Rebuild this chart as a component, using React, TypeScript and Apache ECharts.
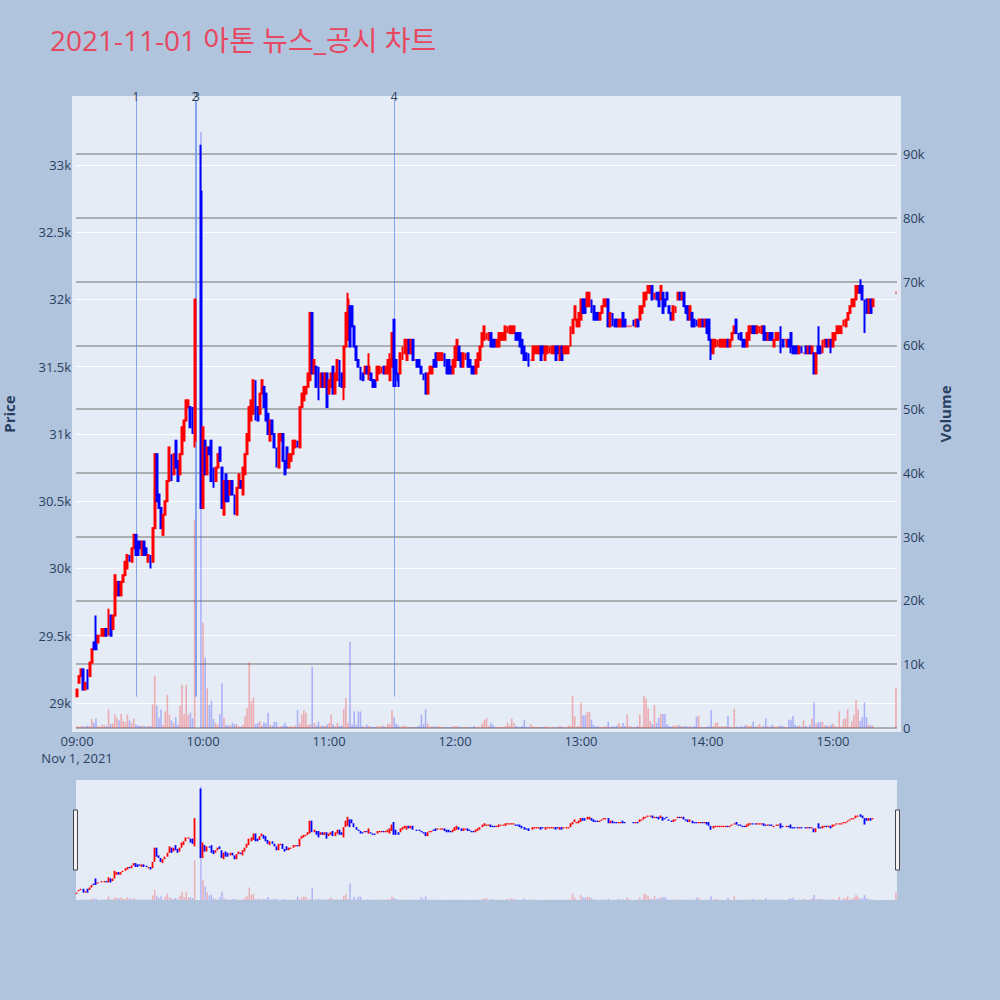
import React, { useEffect, useRef } from "react";
import * as echarts from "echarts";

const TITLE = "2021-11-01 아톤 뉴스_공시 차트";
const DATE_LABEL = "Nov 1, 2021";

// Each minute: [open, close] or [open, close, low, high]; null = no trade (VI halt / closing auction)
type Bar = number[] | null;

const bars0900: Bar[] = [
  [29050, 29100], [29150, 29200], [29200, 29250], [29250, 29100], [29100, 29150], [29250, 29150, 29100, 29250], [29200, 29300], [29300, 29400], [29450, 29400], [29500, 29400, 29400, 29650],
  [29450, 29500], [29500, 29500], [29500, 29550], [29500, 29550], [29550, 29500], [29500, 29700], [29650, 29500], [29550, 29650], [29650, 29950], [29800, 29900],
  [29900, 29800], [29800, 29900], [29900, 29950], [29950, 30050], [30000, 30100], [30100, 30050], [30050, 30150], [30150, 30250], [30250, 30100], [30200, 30100],
  [30200, 30150], [30100, 30200], [30200, 30100], [30150, 30100], [30050, 30100], [30100, 30050, 30000, 30100], [30050, 30300], [30300, 30850], [30850, 30500], [30550, 30450],
  [30450, 30300], [30250, 30400], [30400, 30500], [30500, 30650], [30650, 30900], [30850, 30650], [30700, 30850], [30950, 30750], [30800, 30650], [30700, 30850],
  [30850, 31050], [30950, 31100], [31100, 31250], [31200, 31250], [31200, 31050], [31150, 31050, 31000, 31200], [30950, 32000, 30900, 32000], null, null, [32800, 30450, 30450, 33150],
];
const bars1000: Bar[] = [
  [30450, 31050], [30950, 30700], [30700, 30900], [30900, 30850], [30950, 30650], [30750, 30600], [30650, 30750], [30750, 30850], [30900, 30800], [30750, 30450],
  [30400, 30650], [30700, 30500], [30650, 30500], [30550, 30650], [30650, 30550], [30550, 30400], [30400, 30600], [30600, 30700], [30650, 30600], [30550, 30750],
  [30700, 30850], [30850, 31000], [30950, 31200], [31100, 31250], [31150, 31400], [31400, 31100], [31200, 31100], [31150, 31300], [31300, 31400], [31350, 31200],
  [31300, 31100], [31150, 31000], [30950, 31100], [31100, 31000], [31000, 30900], [30900, 30750], [30750, 31000], [30950, 31000], [31000, 30800], [30800, 30700],
  [30900, 30750], [30750, 30850], [30800, 30850], [30850, 30950], [30900, 30950], [30950, 30900], [30900, 31200], [31200, 31300], [31250, 31350], [31300, 31350],
  [31350, 31450], [31400, 31900], [31900, 31450], [31450, 31550], [31500, 31350], [31500, 31250], [31350, 31450], [31450, 31350], [31350, 31450], [31450, 31200],
];
const bars1100: Bar[] = [
  [31300, 31400], [31350, 31450], [31500, 31300], [31300, 31450], [31400, 31550], [31550, 31350], [31450, 31350], [31350, 31650, 31250, 31650], [31650, 31900], [31700, 32000, 31700, 32050],
  [31950, 31650], [31950, 31800], [31800, 31650], [31650, 31550], [31550, 31500], [31500, 31400], [31450, 31400], [31450, 31500], [31500, 31450], [31450, 31500, 31400, 31600],
  [31450, 31400], [31400, 31350], [31400, 31350], [31400, 31500], [31450, 31500], [31450, 31500], [31500, 31450], [31450, 31500], [31450, 31550], [31400, 31550, 31400, 31600],
  [31500, 31750], [31850, 31450, 31350, 31850], [31550, 31450, 31350, 31550], [31450, 31400, 31350, 31450], [31450, 31600], [31550, 31650], [31600, 31700], [31550, 31700], [31700, 31600], [31600, 31700],
  [31700, 31550], [31550, 31550], [31550, 31500], [31550, 31500], [31500, 31450], [31450, 31400], [31450, 31300], [31300, 31450], [31450, 31500], [31450, 31500],
  [31550, 31500], [31600, 31500], [31550, 31600], [31550, 31600], [31550, 31600], [31600, 31500], [31550, 31450], [31550, 31450], [31500, 31450], [31450, 31550],
];
const bars1200: Bar[] = [
  [31500, 31650], [31550, 31700], [31650, 31550], [31600, 31500], [31500, 31600], [31550, 31600], [31600, 31500], [31550, 31500], [31500, 31450], [31500, 31450],
  [31450, 31550], [31500, 31600], [31550, 31650], [31650, 31750], [31700, 31800], [31700, 31750], [31700, 31750], [31750, 31650], [31700, 31650], [31700, 31650],
  [31650, 31700], [31650, 31750], [31700, 31750], [31700, 31750], [31700, 31800], [31750, 31800], [31750, 31800], [31750, 31800], [31750, 31800], [31750, 31700],
  [31750, 31700], [31750, 31650], [31700, 31600], [31650, 31550], [31600, 31550], [31600, 31500], [31550, 31550], [31550, 31650], [31600, 31650], [31600, 31650],
  [31600, 31650], [31650, 31550], [31650, 31600], [31550, 31650], [31600, 31650], [31600, 31650], [31600, 31650], [31600, 31650], [31650, 31550], [31650, 31600],
  [31550, 31650], [31650, 31550], [31600, 31650], [31600, 31650], [31600, 31650], [31650, 31800], [31750, 31850], [31850, 31950], [31800, 31850], [31800, 31900],
];
const bars1300: Bar[] = [
  [31850, 32000], [32000, 31900], [32000, 31900], [31950, 32050], [31950, 32050], [32000, 31900], [31950, 31850], [31900, 31850], [31900, 31850], [31850, 31900],
  [31900, 31950], [31950, 32000], [31950, 32000], [32000, 31800], [31800, 31900], [31900, 31800], [31850, 31800], [31850, 31800], [31800, 31850], [31800, 31850],
  [31900, 31800], [31850, 31800], [31800, 31800], [31800, 31800], [31800, 31800], [31850, 31800], [31800, 31850], [31850, 31800], [31850, 31950], [31900, 31950],
  [31950, 32050], [32000, 32050], [32050, 32100], [32050, 32100], [32100, 32000], [32000, 32050], [32050, 32000], [32050, 31950], [32000, 32100], [32050, 31900],
  [32000, 31950], [32050, 32000], [31950, 31900], [31900, 31850], [31850, 31950], [31900, 31950], [32000, 32050], [32050, 32000], [32000, 32050], [32050, 31950],
  [31950, 31900], [31950, 31850], [31850, 31950], [31900, 31800], [31850, 31800], [31850, 31800], [31800, 31850], [31800, 31850], [31850, 31800], [31800, 31850],
];
const bars1400: Bar[] = [
  [31850, 31750], [31850, 31700], [31700, 31600, 31550, 31700], [31600, 31700], [31650, 31700], [31650, 31700], [31650, 31700], [31650, 31700], [31650, 31700], [31650, 31700],
  [31700, 31650], [31650, 31700], [31700, 31750], [31750, 31800], [31850, 31750], [31750, 31700], [31750, 31700], [31700, 31650], [31700, 31650], [31650, 31750],
  [31700, 31800], [31750, 31800], [31800, 31750], [31800, 31750], [31750, 31800], [31750, 31800], [31750, 31800], [31800, 31700], [31750, 31700], [31700, 31750],
  [31750, 31700], [31750, 31700], [31650, 31700], [31700, 31750], [31700, 31750], [31750, 31650, 31600, 31800], [31700, 31650], [31700, 31700], [31650, 31700], [31700, 31650],
  [31750, 31650, 31600, 31750], [31650, 31600], [31650, 31600], [31650, 31600], [31600, 31650], [31650, 31600], [31600, 31600], [31650, 31600], [31600, 31650], [31650, 31600],
  [31600, 31650], [31600, 31450], [31450, 31600], [31650, 31600, 31600, 31800], [31650, 31600], [31600, 31700], [31650, 31700], [31700, 31650], [31650, 31700], [31700, 31650, 31600, 31700],
];
const bars1500: Bar[] = [
  [31650, 31750], [31700, 31750], [31750, 31800], [31750, 31800], [31750, 31800], [31800, 31850], [31800, 31850], [31850, 31900], [31900, 31950], [31950, 32000],
  [31950, 32000], [32000, 32100], [32050, 32100], [32100, 32050, 32050, 32150], [32100, 32000], [32000, 31900, 31750, 32000], [32000, 31900], [31900, 32000], [32000, 31900], [31950, 32000],
  null, null, null, null, null, null, null, null, null, null,
  [32050, 32050],
];

const vol0900: (number | null)[] = [
  300, 200, 300, 250, 200, 400, 300, 1400, 800, 1500,
  300, 200, 500, 400, 300, 2900, 600, 700, 2100, 1600,
  1200, 2200, 1100, 900, 2100, 1200, 800, 1500, 500, 400,
  300, 400, 300, 200, 400, 300, 3700, 8200, 3500, 1600,
  2900, 500, 2600, 5200, 2100, 1200, 800, 1700, 500, 3500,
  6800, 2200, 6800, 2100, 2400, 1500, 32600, null, null, 93400,
];
const vol1000: (number | null)[] = [
  16500, 11000, 6200, 3600, 4300, 1400, 800, 500, 2200, 7000,
  1600, 500, 400, 400, 800, 600, 600, 300, 200, 500,
  1800, 3100, 10300, 4200, 4800, 600, 800, 1100, 400, 900,
  700, 2400, 500, 400, 1000, 900, 200, 300, 400, 800,
  300, 200, 300, 200, 400, 2800, 700, 2100, 2800, 2400,
  500, 600, 9600, 800, 400, 1000, 300, 400, 300, 600,
];
const vol1100: (number | null)[] = [
  800, 2100, 600, 300, 800, 300, 400, 3000, 4700, 800,
  13500, 500, 2600, 500, 2600, 2600, 300, 200, 500, 300,
  200, 150, 150, 300, 200, 400, 300, 200, 700, 600,
  2800, 1700, 700, 400, 200, 300, 400, 200, 150, 200,
  200, 150, 200, 400, 2100, 600, 2900, 700, 200, 300,
  200, 200, 300, 200, 150, 100, 150, 100, 150, 200,
];
const vol1200: (number | null)[] = [
  300, 300, 200, 150, 100, 200, 100, 150, 100, 300,
  200, 150, 100, 700, 1300, 1600, 300, 800, 500, 200,
  150, 200, 100, 150, 300, 800, 400, 1500, 800, 300,
  200, 150, 300, 1300, 200, 150, 600, 300, 200, 100,
  150, 200, 100, 300, 200, 100, 150, 200, 100, 150,
  300, 200, 150, 100, 400, 300, 5000, 1800, 200, 300,
];
const vol1300: (number | null)[] = [
  4000, 2000, 2000, 2500, 2500, 1300, 500, 200, 300, 200,
  150, 200, 300, 1000, 200, 300, 200, 400, 800, 300,
  800, 300, 2100, 300, 200, 100, 200, 300, 2100, 200,
  5000, 4600, 3100, 1100, 600, 3600, 800, 1600, 2200, 2200,
  2200, 600, 300, 200, 400, 300, 500, 400, 300, 200,
  300, 200, 300, 200, 300, 1800, 1900, 200, 100, 150,
];
const vol1400: (number | null)[] = [
  200, 300, 2800, 300, 800, 900, 200, 300, 200, 300,
  1900, 200, 100, 3000, 200, 100, 300, 200, 400, 500,
  300, 400, 1000, 200, 300, 600, 200, 300, 1500, 300,
  200, 500, 300, 200, 300, 400, 300, 200, 100, 1300,
  1300, 1900, 500, 300, 400, 200, 1200, 300, 200, 500,
  1500, 4000, 700, 900, 900, 1000, 400, 400, 300, 500,
];
const vol1500: (number | null)[] = [
  700, 300, 200, 2600, 200, 1400, 1500, 3000, 200, 1000,
  2000, 4400, 2900, 1100, 1700, 4000, 1700, 500, 400, 400,
  null, null, null, null, null, null, null, null, null, null,
  6300,
];

const hourBars = [bars0900, bars1000, bars1100, bars1200, bars1300, bars1400, bars1500];
const hourVolumes = [vol0900, vol1000, vol1100, vol1200, vol1300, vol1400, vol1500];

const timeTicks = ["09:00", "10:00", "11:00", "12:00", "13:00", "14:00", "15:00"];
const priceTicks = [29000, 29500, 30000, 30500, 31000, 31500, 32000, 32500, 33000];
const volumeTicks = [0, 10000, 20000, 30000, 40000, 50000, 60000, 70000, 80000, 90000];
const newsLabels = ["1", "2", "3", "4"];
const newsTimes = ["09:28:05", "09:56:10", "09:56:48", "11:31:00"];

const PRICE_RANGE = [28814, 33483];
const VOLUME_RANGE = [0, 98460];
const TIME_RANGE = [-0.5, 390.5];

const toMinutes = (s: string) => {
  const [h, m, sec] = s.split(":").map(Number);
  return (h - 9) * 60 + m + (sec || 0) / 60;
};

const FONT = '"Open Sans", "Noto Sans", sans-serif';
const TEXT_COLOR = "#2a3f5f";
const UP = "#ff0000";
const DOWN = "#0000ff";
const UP_VOL = "rgba(255,0,0,0.28)";
const DOWN_VOL = "rgba(0,0,255,0.25)";

function buildData() {
  const candles: number[][] = [];
  const vols: any[] = [];
  hourBars.forEach((arr, h) => {
    arr.forEach((b, i) => {
      if (!b) return;
      const t = h * 60 + i;
      const [o, c, l, hi] = b;
      const low = l ?? Math.min(o, c);
      const high = hi ?? Math.max(o, c);
      candles.push([t, o, c, low, high]);
      const v = hourVolumes[h][i];
      if (v != null) vols.push({ value: [t, v], itemStyle: { color: c >= o ? UP_VOL : DOWN_VOL } });
    });
  });
  return { candles, vols };
}

export default function App() {
  const ref = useRef<HTMLDivElement>(null);
  useEffect(() => {
    if (!ref.current) return;
    const chart = echarts.init(ref.current, null, { renderer: "svg" });
    const { candles, vols } = buildData();
    const yTop = PRICE_RANGE[1];
    const yBottom = PRICE_RANGE[0] + 0.05 * (PRICE_RANGE[1] - PRICE_RANGE[0]);
    const newsLines = newsTimes.map((s, i) => [
      { name: newsLabels[i], coord: [toMinutes(s), yTop] },
      { coord: [toMinutes(s), yBottom] },
    ]);
    const timeValues = timeTicks.map((s) => toMinutes(s + ":00"));

    const option: any = {
      animation: false,
      backgroundColor: "#B0C4DE",
      textStyle: { fontFamily: FONT },
      title: {
        text: TITLE,
        left: 50,
        top: 26,
        padding: 0,
        textStyle: { color: "#E8485F", fontSize: 28, fontWeight: "normal", fontFamily: '"Open Sans", "Noto Sans CJK KR", sans-serif' },
      },
      graphic: [
        { type: "rect", shape: { x: 72, y: 96, width: 829, height: 636 }, style: { fill: "#E5ECF6" }, z: -10, silent: true },
        { type: "rect", shape: { x: 76, y: 780, width: 821, height: 120 }, style: { fill: "#E5ECF6" }, z: -10, silent: true },
        { type: "rect", shape: { x: 73.5, y: 810, width: 4, height: 60 }, style: { fill: "#f2f2f2", stroke: "#444", lineWidth: 1 }, z: 100, silent: true },
        { type: "rect", shape: { x: 895.5, y: 810, width: 4, height: 60 }, style: { fill: "#f2f2f2", stroke: "#444", lineWidth: 1 }, z: 100, silent: true },
      ],
      grid: [
        { left: 76, top: 100, width: 821, height: 628, outerBoundsMode: "none", containLabel: false },
        { left: 76, top: 780, width: 821, height: 120, outerBoundsMode: "none", containLabel: false },
      ],
      xAxis: [
        {
          type: "value", gridIndex: 0, min: TIME_RANGE[0], max: TIME_RANGE[1],
          axisLine: { show: false }, axisTick: { show: false, customValues: timeValues }, splitLine: { show: false },
          axisLabel: {
            customValues: timeValues, color: TEXT_COLOR, fontSize: 13, margin: 4, lineHeight: 17,
            formatter: (v: number) => {
              const idx = timeValues.findIndex((t) => Math.abs(t - v) < 0.01);
              const lbl = idx >= 0 ? timeTicks[idx] : "";
              return idx === 0 ? lbl + "\n" + DATE_LABEL : lbl;
            },
          },
        },
        { type: "value", gridIndex: 1, min: TIME_RANGE[0], max: TIME_RANGE[1], show: false, splitLine: { show: false } },
      ],
      yAxis: [
        {
          type: "value", gridIndex: 0, position: "left", min: PRICE_RANGE[0], max: PRICE_RANGE[1],
          name: "Price", nameLocation: "middle", nameGap: 60, nameRotate: 90,
          nameTextStyle: { color: TEXT_COLOR, fontSize: 15, fontWeight: "bold" },
          axisLine: { show: false }, axisTick: { show: false, customValues: priceTicks },
          axisLabel: { customValues: priceTicks, color: TEXT_COLOR, fontSize: 13, margin: 5, formatter: (v: number) => v / 1000 + "k" },
          splitLine: { show: true, lineStyle: { color: "#ffffff", width: 1 } },
        },
        {
          type: "value", gridIndex: 0, position: "right", min: VOLUME_RANGE[0], max: VOLUME_RANGE[1],
          name: "Volume", nameLocation: "middle", nameGap: 40, nameRotate: 90,
          nameTextStyle: { color: TEXT_COLOR, fontSize: 15, fontWeight: "bold" },
          axisLine: { show: false }, axisTick: { show: false, customValues: volumeTicks },
          axisLabel: { customValues: volumeTicks, color: TEXT_COLOR, fontSize: 13, margin: 6, formatter: (v: number) => (v === 0 ? "0" : v / 1000 + "k") },
          splitLine: { show: true, lineStyle: { color: "#9a9a9a", width: 1.5 } },
        },
        { type: "value", gridIndex: 1, min: PRICE_RANGE[0], max: PRICE_RANGE[1], show: false, splitLine: { show: false } },
        { type: "value", gridIndex: 1, min: VOLUME_RANGE[0], max: VOLUME_RANGE[1], show: false, splitLine: { show: false } },
      ],
      series: [
        {
          type: "bar", name: "Volume", xAxisIndex: 0, yAxisIndex: 1, data: vols, barWidth: 1.6, z: 1, silent: true,
        },
        {
          type: "candlestick", name: "Price", xAxisIndex: 0, yAxisIndex: 0, data: candles,
          encode: { x: 0, y: [1, 2, 3, 4] }, barWidth: 1.4, z: 3,
          itemStyle: { color: UP, color0: DOWN, borderColor: UP, borderColor0: DOWN, borderWidth: 2 },
          markLine: {
            silent: true, symbol: ["none", "none"], z: 2,
            lineStyle: { color: "rgba(100,140,235,0.75)", width: 1, type: "solid" },
            label: { show: true, position: "start", distance: -2, color: TEXT_COLOR, fontSize: 12, formatter: (p: any) => p.name },
            data: newsLines,
          },
        },
        {
          type: "bar", xAxisIndex: 1, yAxisIndex: 3, data: vols, barWidth: 1.4, z: 1, silent: true,
        },
        {
          type: "candlestick", xAxisIndex: 1, yAxisIndex: 2, data: candles,
          encode: { x: 0, y: [1, 2, 3, 4] }, barWidth: 1.2, z: 3, silent: true,
          itemStyle: { color: UP, color0: DOWN, borderColor: UP, borderColor0: DOWN, borderWidth: 1.8 },
        },
      ],
    };
    chart.setOption(option);
    return () => chart.dispose();
  }, []);
  return <div ref={ref} style={{ position: "fixed", left: 0, top: 0, width: 1000, height: 1000 }} />;
}
